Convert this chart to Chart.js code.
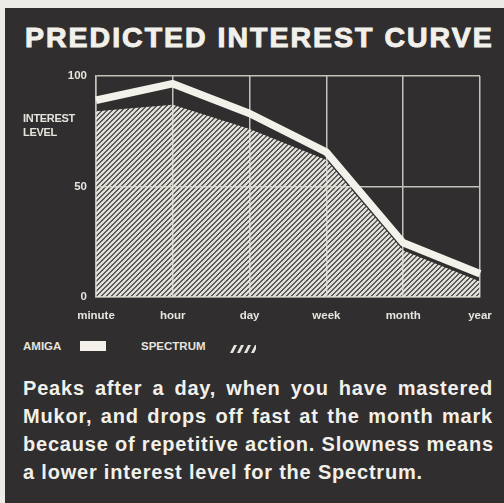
<!DOCTYPE html>
<html>
<head>
<meta charset="utf-8">
<script src="https://cdn.jsdelivr.net/npm/chart.js@4"></script>
<style>
  html, body { margin: 0; padding: 0; }
  body { width: 504px; height: 503px; background: #ecebe6; position: relative; overflow: hidden;
         font-family: "Liberation Sans", Arial, sans-serif; }
  #panel { position: absolute; left: 5px; top: 8px; right: 0; bottom: 0; background: #302e2e; }
  #title { position: absolute; left: 25px; top: 20px; color: #f2f0ea; font-size: 28.5px; font-weight: bold;
           letter-spacing: 2px; white-space: nowrap; line-height: 34px;
           -webkit-text-stroke: 1px #f2f0ea; }
  #chart-wrap { position: absolute; left: 0; top: 60px; width: 504px; height: 270px; }
  #ylabel { position: absolute; left: 23px; top: 111px; color: #e6e4dd; font-size: 11px; font-weight: bold;
            line-height: 14px; letter-spacing: -0.3px; }
  #legend { position: absolute; left: 23px; top: 338px; height: 16px; color: #e6e4dd; font-size: 11.5px;
            font-weight: bold; line-height: 16px; }
  #legend span { position: absolute; top: 0; white-space: nowrap; }
  .swatch { position: absolute; }
  #caption { position: absolute; left: 23px; top: 374px; width: 470px; color: #f2f0ea; font-size: 20px;
             font-weight: bold; line-height: 28px; letter-spacing: 0.8px; }
  #caption div { text-align: justify; text-align-last: justify; white-space: nowrap; }
  #caption div.last { text-align-last: left; }
</style>
</head>
<body>
<div id="panel"></div>
<div id="title">PREDICTED INTEREST CURVE</div>
<div id="chart-wrap"><canvas id="curve" width="504" height="270"></canvas></div>
<div id="ylabel">INTEREST<br>LEVEL</div>
<div id="legend">
  <span style="left:0">AMIGA</span>
  <div class="swatch" style="left:57px; top:3px; width:26px; height:10px; background:#f3f1ea;"></div>
  <span style="left:118px">SPECTRUM</span>
  <canvas class="swatch" id="spectrum-swatch" width="28" height="8" style="left:205px; top:7px;"></canvas>
</div>
<div id="caption">
  <div>Peaks after a day, when you have mastered</div>
  <div>Mukor, and drops off fast at the month mark</div>
  <div>because of repetitive action. Slowness means</div>
  <div class="last">a lower interest level for the Spectrum.</div>
</div>
<script>
const periods = ['minute', 'hour', 'day', 'week', 'month', 'year'];
const amigaInterest = [89, 96.5, 83, 65.5, 24.5, 10.5];
const spectrumInterest = [84, 87, 76, 62, 21, 7];
const levelTicks = [0, 50, 100];

const inkLight = '#f3f1ea';
const gridGrey = '#c4c1ba';

// diagonal "////" hatching for the Spectrum area, gaps left transparent
function makeHatch(size) {
    const c = document.createElement('canvas');
    c.width = size;
    c.height = size;
    const g = c.getContext('2d');
    g.strokeStyle = '#e4e2db';
    g.lineWidth = 2.4;
    g.beginPath();
    g.moveTo(-1, 1); g.lineTo(1, -1);
    g.moveTo(0, size); g.lineTo(size, 0);
    g.moveTo(size - 1, size + 1); g.lineTo(size + 1, size - 1);
    g.stroke();
    return g.createPattern(c, 'repeat');
}

// little hatched swatch next to the SPECTRUM label
const sw = document.getElementById('spectrum-swatch').getContext('2d');
sw.fillStyle = '#e6e4dd';
for (let i = 0; i < 4; i++) {
    const x = 2 + i * 7;
    sw.beginPath();
    sw.moveTo(x, 8); sw.lineTo(x + 4, 0); sw.lineTo(x + 7, 0); sw.lineTo(x + 3, 8);
    sw.closePath();
    sw.fill();
}

const ctx = document.getElementById('curve').getContext('2d');
new Chart(ctx, {
    type: 'line',
    data: {
        labels: periods,
        datasets: [
            {
                label: 'AMIGA',
                data: amigaInterest,
                borderColor: inkLight,
                borderWidth: 7.5,
                borderJoinStyle: 'round',
                pointRadius: 0,
                tension: 0,
                fill: false
            },
            {
                label: 'SPECTRUM',
                data: spectrumInterest,
                borderWidth: 0,
                pointRadius: 0,
                tension: 0,
                backgroundColor: makeHatch(5),
                fill: 'origin'
            }
        ]
    },
    options: {
        responsive: false,
        animation: false,
        layout: { padding: { left: 0, right: 24, top: 13, bottom: 0 } },
        plugins: {
            legend: { display: false },
            tooltip: { enabled: false }
        },
        scales: {
            x: {
                offset: false,
                grid: { color: gridGrey, lineWidth: 1.5, drawTicks: false },
                border: { color: gridGrey, width: 1.5 },
                ticks: {
                    color: '#e6e4dd',
                    font: { family: 'Liberation Sans', size: 11.5, weight: 'bold' },
                    padding: 12,
                    maxRotation: 0,
                    autoSkip: false
                },
                afterFit: scale => { scale.height = 33; }
            },
            y: {
                min: 0,
                max: 100,
                afterBuildTicks: scale => { scale.ticks = levelTicks.map(v => ({ value: v })); },
                grid: { color: gridGrey, lineWidth: 1.5, drawTicks: false },
                border: { color: gridGrey, width: 1.5 },
                ticks: {
                    color: '#e6e4dd',
                    font: { family: 'Liberation Sans', size: 11.5, weight: 'bold' },
                    padding: 9
                },
                afterFit: scale => { scale.width = 96; }
            }
        }
    }
});
</script>
</body>
</html>
